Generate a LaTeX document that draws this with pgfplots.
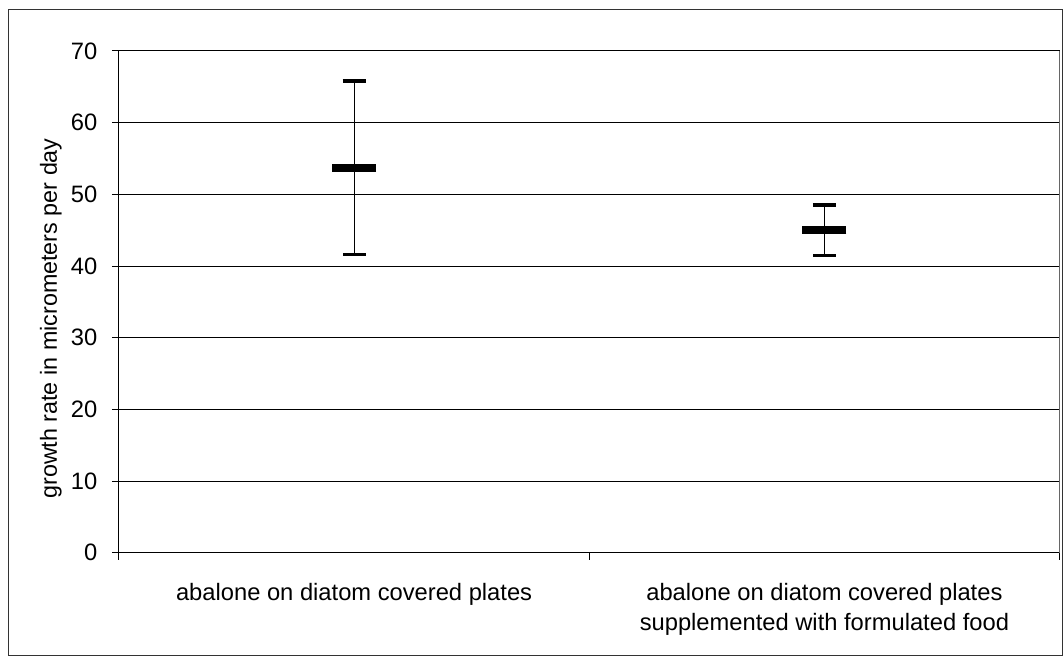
\documentclass[border=0pt]{standalone}
\usepackage{pgfplots}
\pgfplotsset{compat=1.18}
\usepackage{fontspec}
\setmainfont{Liberation Sans}
\begin{document}
\begin{tikzpicture}[x=0.75pt,y=0.75pt]
\path (-119,-104) rectangle (945,553);
\begin{axis}[
  at={(0,0)}, anchor=south west,
  scale only axis,
  width=705.75pt, height=376.5pt,
  xmin=0, xmax=2, ymin=0, ymax=70,
  axis x line*=bottom, axis y line*=left,
  axis line style={black, line width=0.75pt},
  ytick={0,10,...,70},
  xtick={0,1,2}, xticklabels={},
  tick style={black, line width=0.75pt},
  major tick length=5.25pt,
  xtick align=outside, ytick align=outside,
  ymajorgrids, grid style={black, line width=0.75pt},
  extra x ticks={0.5,1.5},
  extra x tick labels={abalone on diatom covered plates, {abalone on diatom covered plates\\supplemented with formulated food}},
  extra x tick style={major tick length=0pt, grid=none,
    tick label style={align=center, yshift=-19.5pt}},
  tick label style={font=\fontsize{17.8}{22.5}\selectfont},
  yticklabel style={xshift=-7.5pt},
  /pgf/number format/assume math mode=true,
  ylabel={growth rate in micrometers per day},
  ylabel style={font=\fontsize{17.5}{20}\selectfont, at={(ticklabel cs:0.435)}, xshift=12pt},
  clip=false,
]
\addplot+[only marks, black, mark=-, mark size=16.5pt,
  mark options={line width=6pt, black},
  error bars/.cd, y dir=both, y explicit,
  error bar style={line width=0.75pt, black},
  error mark=|, error mark options={line width=2.4pt, mark size=8.6pt, black}]
  coordinates {
  (0.5,53.7) +- (0,12.1)
  (1.5,45.0) +- (0,3.5)
  };
\draw[gray!80!black, line width=0.75pt] (rel axis cs:1,0) -- (rel axis cs:1,1);
\end{axis}
\draw[black!80, line width=0.75pt] (-110,-103) rectangle (944,543);
\end{tikzpicture}
\end{document}
